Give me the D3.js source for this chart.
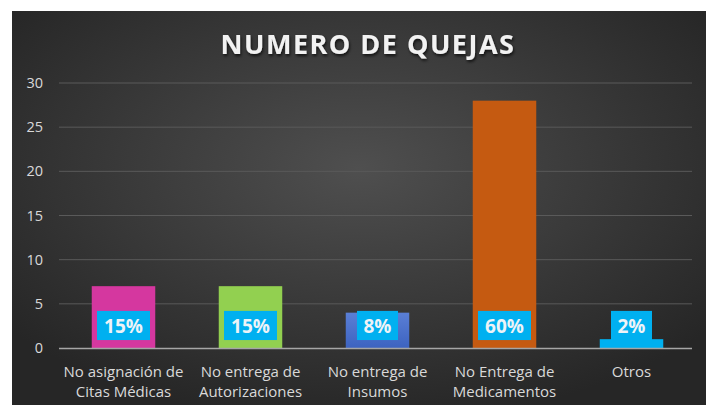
<!DOCTYPE html>
<html><head><meta charset="utf-8">
<script src="https://cdn.jsdelivr.net/npm/d3@7"></script>
<style>body{margin:0;background:#fff;}svg{display:block;}</style>
</head><body>
<svg id="chart" width="707" height="405"></svg>
<script>
const categories = [["No asignación de","Citas Médicas"],["No entrega de","Autorizaciones"],["No entrega de","Insumos"],["No Entrega de","Medicamentos"],["Otros"]];
const values = [7, 7, 4, 28, 1];
const percentLabels = ["15%","15%","8%","60%","2%"];
const barColors = ["#d5379f","#92d050","#4a6fcc","#c55a11","#00b0f0"];
const yTicks = [0,5,10,15,20,25,30];
const title = "NUMERO DE QUEJAS";

const svg = d3.select("#chart");
const defs = svg.append("defs");
const rg = defs.append("radialGradient").attr("id","bg").attr("cx","50%").attr("cy","40%").attr("r","65%");
rg.append("stop").attr("offset","0%").attr("stop-color","#4f4f4f");
rg.append("stop").attr("offset","100%").attr("stop-color","#262626");
const bg3 = defs.append("linearGradient").attr("id","blueBar").attr("x1","0").attr("x2","0").attr("y1","0").attr("y2","1");
bg3.append("stop").attr("offset","0%").attr("stop-color","#5a7fd6");
bg3.append("stop").attr("offset","100%").attr("stop-color","#3d63c0");
const f = defs.append("filter").attr("id","shadow").attr("x","-10%").attr("y","-30%").attr("width","120%").attr("height","160%");
f.append("feDropShadow").attr("dx",1).attr("dy",2).attr("stdDeviation",1.5).attr("flood-color","#000").attr("flood-opacity",0.7);

svg.append("rect").attr("x",12).attr("y",11).attr("width",694).attr("height",394).attr("fill","url(#bg)");

const x = d3.scaleBand().domain(d3.range(values.length)).range([60,695]).paddingInner(0.5).paddingOuter(0.25);
const y = d3.scaleLinear().domain([0,30]).range([348,83]);

// gridlines
svg.append("g").selectAll("line").data(yTicks.filter(d=>d>0)).join("line")
  .attr("x1",59).attr("x2",692).attr("y1",d=>y(d)).attr("y2",d=>y(d))
  .attr("stroke","#5a5a5a").attr("stroke-width",1);

// y axis labels
const yAxis = d3.axisLeft(y).tickValues(yTicks).tickSize(0).tickPadding(0);
const ya = svg.append("g").attr("transform","translate(43,0)").call(yAxis);
ya.select(".domain").remove();
ya.selectAll("text").attr("fill","#d9d9d9").attr("font-family","'Open Sans',sans-serif").attr("font-size",14.5).attr("text-anchor","end").attr("dx",0);

// bars
svg.append("g").selectAll("rect").data(values).join("rect")
  .attr("x",(d,i)=>x(i)).attr("width",x.bandwidth())
  .attr("y",d=>y(d)).attr("height",d=>y(0)-y(d))
  .attr("fill",(d,i)=>i===2?"url(#blueBar)":barColors[i]);

// baseline
svg.append("line").attr("x1",59).attr("x2",692).attr("y1",y(0)+0.5).attr("y2",y(0)+0.5).attr("stroke","#a6a6a6").attr("stroke-width",1.5);

// data labels
const lg = svg.append("g").selectAll("g").data(percentLabels).join("g");
const boxW = d => d.length===3 ? 53 : 41;
lg.append("rect")
  .attr("x",(d,i)=>x(i)+x.bandwidth()/2-boxW(d)/2).attr("width",d=>boxW(d))
  .attr("y",y(4.2)).attr("height",y(0.9)-y(4.2))
  .attr("fill","#00b0f0");
lg.append("text")
  .attr("x",(d,i)=>x(i)+x.bandwidth()/2).attr("y",y(0.9)-7)
  .attr("text-anchor","middle").attr("fill","#eef3f7")
  .attr("font-family","'Open Sans',sans-serif").attr("font-weight","bold").attr("font-size",19)
  .text(d=>d);

// category labels
const xa = svg.append("g").selectAll("text").data(categories).join("text")
  .attr("x",(d,i)=>x(i)+x.bandwidth()/2).attr("y",377)
  .attr("text-anchor","middle").attr("fill","#d9d9d9")
  .attr("font-family","'Open Sans',sans-serif").attr("font-size",15);
xa.selectAll("tspan").data(d=>d).join("tspan")
  .attr("x",function(){return d3.select(this.parentNode).attr("x");})
  .attr("dy",(d,i)=>i===0?0:20).text(d=>d);

// title
svg.append("text").attr("x",368).attr("y",54).attr("text-anchor","middle")
  .attr("fill","#f2f2f2").attr("font-family","'Open Sans',sans-serif").attr("font-weight","bold")
  .attr("font-size",27).attr("letter-spacing",1.5).attr("filter","url(#shadow)").text(title);
</script>
</body></html>
